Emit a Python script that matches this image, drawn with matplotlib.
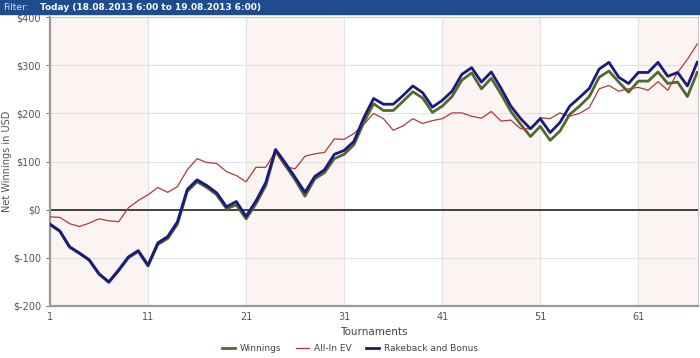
import numpy as np
import matplotlib.pyplot as plt

tournaments = np.arange(1, 68)

rakeback = [-30, -44, -77, -90, -104, -133, -150, -125, -98, -85,
            -115, -69, -56, -25, 42, 62, 50, 35, 6, 17,
            -14, 18, 56, 125, 97, 67, 36, 69, 83, 115,
            123, 142, 191, 231, 219, 219, 237, 257, 243, 213,
            227, 246, 281, 295, 265, 286, 252, 215, 189, 168,
            189, 160, 181, 215, 233, 252, 292, 306, 275, 262,
            285, 285, 306, 277, 285, 257, 306]

winnings = [-31, -45, -78, -91, -105, -134, -151, -127, -100, -87,
            -117, -72, -60, -30, 38, 58, 46, 31, 2, 10,
            -19, 12, 50, 122, 92, 62, 28, 64, 77, 106,
            115, 135, 181, 220, 206, 206, 225, 245, 232, 202,
            215, 235, 269, 284, 251, 273, 240, 204, 177, 152,
            173, 144, 163, 198, 215, 235, 275, 288, 265, 244,
            267, 267, 286, 262, 265, 235, 285]

allin_ev = [-15, -16, -29, -35, -28, -19, -23, -25, 4, 19,
            31, 46, 36, 48, 83, 106, 98, 96, 79, 71,
            58, 88, 88, 121, 89, 85, 111, 116, 119, 147,
            146, 158, 177, 200, 189, 165, 174, 189, 179, 185,
            189, 201, 201, 194, 190, 204, 184, 186, 168, 168,
            191, 189, 201, 194, 200, 212, 251, 258, 246, 251,
            254, 248, 266, 248, 285, 312, 344]

yticks = [-200, -100, 0, 100, 200, 300, 400]
ytick_labels = ['$-200', '$-100', '$0', '$100', '$200', '$300', '$400']
xticks = [1, 11, 21, 31, 41, 51, 61]

fig = plt.figure(figsize=(7, 3.58), dpi=100)
ax = fig.add_axes([0.0714, 0.1453, 0.926, 0.807])

# title bar
fig.patches.append(plt.Rectangle((0, 0.96), 1, 0.04, transform=fig.transFigure,
                                 color='#1f4c8f', zorder=0))
fig.text(0.004, 0.98, 'Filter:', color='#d8e2f0', fontsize=6.5, va='center')
fig.text(0.057, 0.98, 'Today (18.08.2013 6:00 to 19.08.2013 6:00)', color='white',
         fontsize=6.5, va='center', fontweight='bold')

# shaded bands
for start in [1, 21, 41, 61]:
    ax.axvspan(start, start + 10, color='#fcf3f3', zorder=0, lw=0)

ax.set_xlim(1, 67.1)
ax.set_ylim(-200, 400)
ax.grid(True, color='#e2e2e2', lw=0.8, zorder=1)
ax.axhline(0, color='#333333', lw=1.3, zorder=2)

ax.plot(tournaments, winnings, color='#4f6a2c', lw=2.0, zorder=3, label='Winnings')
ax.plot(tournaments, allin_ev, color='#b03a3a', lw=0.9, zorder=4, label='All-In EV')
ax.plot(tournaments, rakeback, color='#1a1a7e', lw=2.0, zorder=5, label='Rakeback and Bonus')

ax.set_yticks(yticks)
ax.set_yticklabels(ytick_labels)
ax.set_xticks(xticks)
ax.tick_params(labelsize=7, colors='#555555', length=3, width=0.6)
ax.tick_params(axis='x', length=0, pad=4)

for side in ['top', 'right']:
    ax.spines[side].set_color('#cccccc')
    ax.spines[side].set_linewidth(0.8)
for side in ['left', 'bottom']:
    ax.spines[side].set_color('#999999')
    ax.spines[side].set_linewidth(1.6)

ax.set_ylabel('Net Winnings in USD', fontsize=7, color='#555555')
ax.yaxis.set_label_coords(-0.058, 0.5)
ax.set_xlabel('Tournaments', fontsize=7.5, color='#444444', labelpad=4)

fig.legend(*ax.get_legend_handles_labels(), loc='lower center',
           bbox_to_anchor=(0.5, -0.01), ncol=3, frameon=False,
           fontsize=6.5, handlelength=1.4, handletextpad=0.6, columnspacing=1.6,
           labelcolor='#444444')

fig.savefig('out.png', dpi=100)
